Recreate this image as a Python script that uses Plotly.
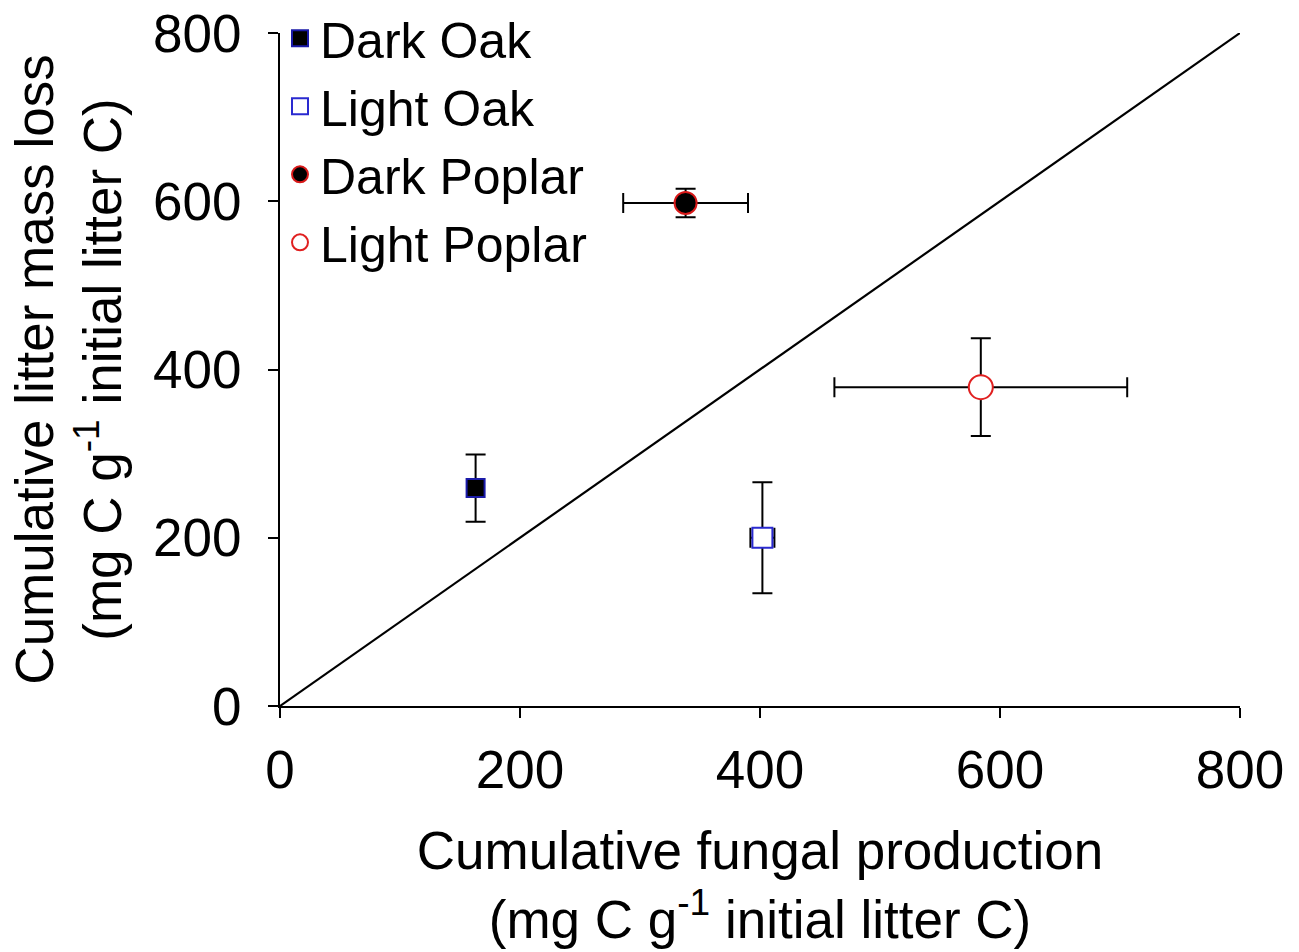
import plotly.graph_objects as go

series = ["Dark Oak", "Light Oak", "Dark Poplar", "Light Poplar"]
fungal_prod = [163, 402, 338, 584]
fungal_err = [5, 10, 52, 122]
mass_loss = [259, 200, 598, 379]
mass_err = [40, 66, 17, 58]

symbols = ["square", "square", "circle", "circle"]
fills = ["black", "white", "black", "white"]
edges = ["#1a1aa8", "#2a2ad0", "#d81818", "#e02020"]
sizes = [18, 20, 22, 24]

line_x = [0, 800]
line_y = [0, 800]

fig = go.Figure()
fig.add_trace(go.Scatter(x=line_x, y=line_y, mode="lines",
                         line=dict(color="black", width=2.2),
                         showlegend=False, hoverinfo="skip"))

for i, name in enumerate(series):
    fig.add_trace(go.Scatter(
        x=[fungal_prod[i]], y=[mass_loss[i]], mode="markers", name=name,
        marker=dict(symbol=symbols[i], size=sizes[i], color=fills[i],
                    line=dict(color=edges[i], width=2)),
        error_x=dict(type="data", array=[fungal_err[i]], color="black",
                     thickness=2, width=10),
        error_y=dict(type="data", array=[mass_err[i]], color="black",
                     thickness=2, width=10),
    ))

font_family = "Liberation Sans, Arial, sans-serif"
fig.update_layout(
    width=1299, height=952,
    margin=dict(l=280, r=59, t=33, b=246, autoexpand=False),
    plot_bgcolor="white", paper_bgcolor="white",
    font=dict(family=font_family, size=53, color="black"),
    showlegend=True,
    legend=dict(x=0.0, y=1.05, xanchor="left", yanchor="top",
                bgcolor="rgba(0,0,0,0)", font=dict(size=50),
                itemwidth=30, tracegroupgap=0),
    xaxis=dict(range=[0, 800], tickvals=[0, 200, 400, 600, 800],
               showgrid=False, zeroline=False, showline=True,
               linecolor="black", linewidth=2, ticks="outside",
               ticklen=10, tickwidth=2, tickcolor="black",
               ticklabelstandoff=6,
               tickfont=dict(size=53),
               title=dict(text="Cumulative fungal production<br>(mg C g<sup>-1</sup> initial litter C)",
                          font=dict(size=53), standoff=34)),
    yaxis=dict(range=[0, 800], tickvals=[0, 200, 400, 600, 800],
               showgrid=False, zeroline=False, showline=True,
               linecolor="black", linewidth=2, ticks="outside",
               ticklen=10, tickwidth=2, tickcolor="black",
               ticklabelstandoff=16,
               tickfont=dict(size=53),
               title=dict(text="Cumulative litter mass loss<br>(mg C g<sup>-1</sup> initial litter C)",
                          font=dict(size=53), standoff=14)),
)

fig.write_html("out.html")
